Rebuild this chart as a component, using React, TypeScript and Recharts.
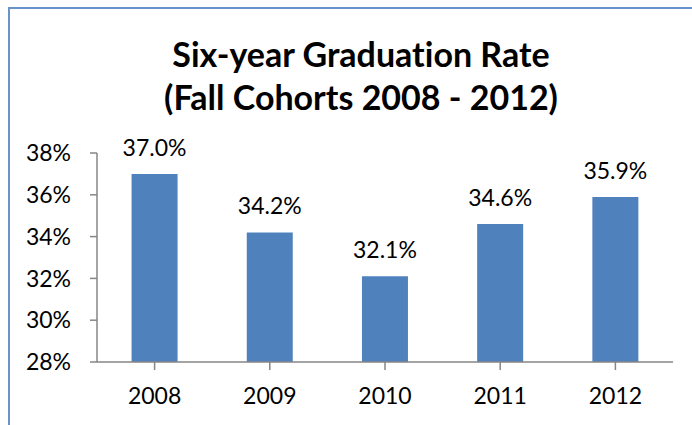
import { Bar, BarChart, LabelList, XAxis, YAxis } from 'recharts';

const cohorts = ['2008', '2009', '2010', '2011', '2012'];
const gradRates = [0.37, 0.342, 0.321, 0.346, 0.359];
const rateTicks = [0.28, 0.3, 0.32, 0.34, 0.36, 0.38];

const data = cohorts.map((year, i) => ({ year, rate: gradRates[i] }));

const FONT = 'Lato, "Open Sans", sans-serif';
const AXIS = '#868686';

export default function App() {
  return (
    <div
      style={{
        position: 'absolute',
        left: 0,
        top: 0,
        width: 692,
        height: 425,
        overflow: 'hidden',
        background: '#fff',
        fontFamily: FONT,
      }}
    >
      <div
        style={{
          position: 'absolute',
          left: 8,
          top: 7,
          width: 720,
          height: 450,
          borderLeft: '2px solid #6A93CC',
          borderTop: '2px solid #6A93CC',
        }}
      />
      <div
        style={{
          position: 'absolute',
          left: 0,
          top: 32,
          width: 722,
          textAlign: 'center',
          fontWeight: 700,
          fontSize: 34,
          lineHeight: '43px',
          color: '#000',
          fontVariantLigatures: 'none',
        }}
      >
        Six-year Graduation Rate
        <br />
        (Fall Cohorts 2008 - 2012)
      </div>
      <BarChart
        width={692}
        height={425}
        data={data}
        margin={{ top: 153, right: 19, bottom: 0, left: 0 }}
        barCategoryGap="30%"
        style={{ position: 'absolute', left: 0, top: 0 }}
      >
        <XAxis
          dataKey="year"
          height={63}
          stroke={AXIS}
          strokeWidth={1.5}
          tickSize={8}
          tickMargin={18}
          tick={{ fontSize: 23, fill: '#000', fontFamily: FONT }}
        />
        <YAxis
          width={97}
          domain={[0.28, 0.38]}
          ticks={rateTicks}
          allowDataOverflow
          stroke={AXIS}
          strokeWidth={1.5}
          tickSize={7}
          tickMargin={19}
          tickFormatter={(v: number) => `${Math.round(v * 100)}%`}
          tick={{ fontSize: 23, fill: '#000', fontFamily: FONT }}
        />
        <Bar dataKey="rate" fill="#4F81BD" isAnimationActive={false}>
          <LabelList
            dataKey="rate"
            position="top"
            offset={18}
            formatter={(v: number) => `${(v * 100).toFixed(1)}%`}
            style={{ fontSize: 23, fill: '#000', fontFamily: FONT }}
          />
        </Bar>
      </BarChart>
    </div>
  );
}
